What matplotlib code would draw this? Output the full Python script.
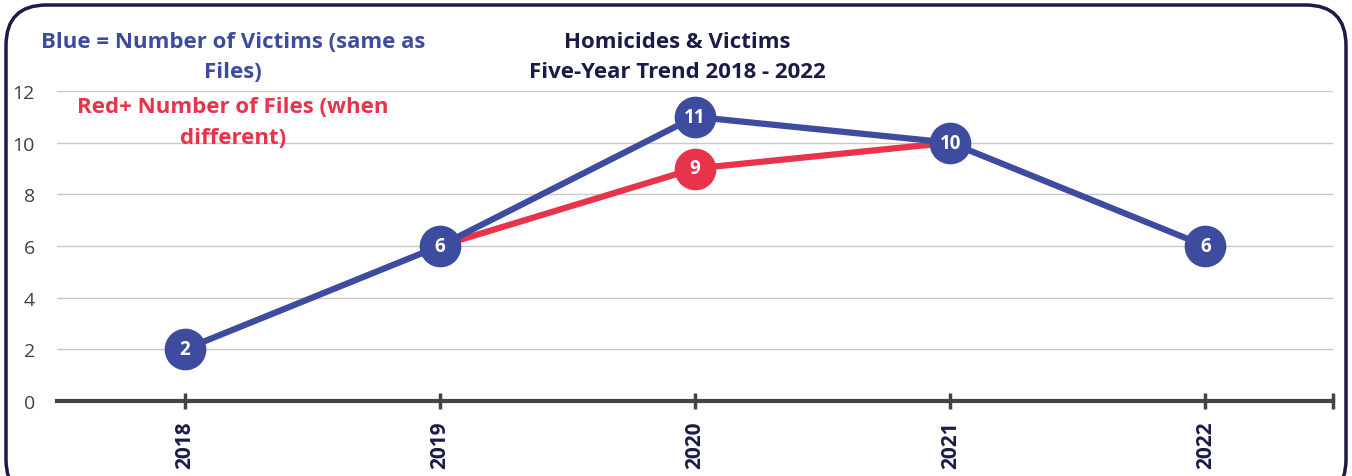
import matplotlib.pyplot as plt
from matplotlib.patches import FancyBboxPatch

# data
years = ['2018', '2019', '2020', '2021', '2022']
victims = [2, 6, 11, 10, 6]
files = [None, 6, 9, 10, None]   # files only differ / shown 2019-2021
files_marker = [False, False, True, False, False]

blue = '#3D4C9F'
red = '#E8334A'
navy = '#1B1B47'

plt.rcParams['font.family'] = ['Open Sans', 'DejaVu Sans']

fig = plt.figure(figsize=(13.52, 4.77), dpi=100)
ax = fig.add_axes([57 / 1352, 1 - 402 / 477, (1333 - 57) / 1352, 310 / 477])

x = list(range(len(years)))

# red line (files), drawn under the blue one
fx = [i for i in x if files[i] is not None]
fy = [files[i] for i in fx]
ax.plot(fx, fy, color=red, lw=4.5, zorder=2, solid_capstyle='round')
for i in x:
    if files_marker[i]:
        ax.plot(i, files[i], 'o', ms=29, color=red, zorder=3)
        ax.text(i, files[i], str(files[i]), color='white', fontsize=13.5,
                fontweight='bold', ha='center', va='center', zorder=6)

# blue line (victims)
ax.plot(x, victims, color=blue, lw=4.5, zorder=4)
ax.plot(x, victims, 'o', ms=29, color=blue, zorder=5)
for i, v in zip(x, victims):
    ax.text(i, v, str(v), color='white', fontsize=13.5, fontweight='bold',
            ha='center', va='center', zorder=6)

ax.set_xlim(-0.5, 4.5)
ax.set_ylim(0, 12)
ax.set_yticks(range(0, 13, 2))
ax.yaxis.grid(True, color='#c8c8c8', lw=1)
ax.set_axisbelow(True)
ax.tick_params(axis='y', length=0, labelsize=14, labelcolor='#404040', pad=16)

ax.set_xticks(x)
ax.set_xticklabels(years, rotation=90, fontsize=15, fontweight='bold', color=navy)
ax.set_xticks([4.5], minor=True)
ax.tick_params(axis='x', which='both', length=12, width=2.5, color='#444444',
               direction='inout', pad=8)

for s in ['top', 'right', 'left']:
    ax.spines[s].set_visible(False)
ax.spines['bottom'].set_color('#444444')
ax.spines['bottom'].set_linewidth(3)

# annotations
fig.text(233 / 1352, 1 - 43 / 477, 'Blue = Number of Victims (same as', color=blue,
         fontsize=16, fontweight='bold', ha='center', va='center')
fig.text(233 / 1352, 1 - 73 / 477, 'Files)', color=blue,
         fontsize=16, fontweight='bold', ha='center', va='center')
fig.text(233 / 1352, 1 - 108 / 477, 'Red+ Number of Files (when', color=red,
         fontsize=16, fontweight='bold', ha='center', va='center')
fig.text(233 / 1352, 1 - 139 / 477, 'different)', color=red,
         fontsize=16, fontweight='bold', ha='center', va='center')

fig.text(677 / 1352, 1 - 42 / 477, 'Homicides & Victims', color=navy,
         fontsize=16, fontweight='bold', ha='center', va='center')
fig.text(677 / 1352, 1 - 73 / 477, 'Five-Year Trend 2018 - 2022', color=navy,
         fontsize=16, fontweight='bold', ha='center', va='center')

# rounded frame around the whole chart
frame = FancyBboxPatch((6 / 1352, -0.05), 1340 / 1352, 1.0 - 6 / 477 + 0.05,
                       boxstyle='round,pad=0,rounding_size=0.03',
                       transform=fig.transFigure, fill=False, ec=navy, lw=2.5,
                       mutation_aspect=1352 / 477)
fig.patches.append(frame)

fig.savefig('out.png', dpi=100)
